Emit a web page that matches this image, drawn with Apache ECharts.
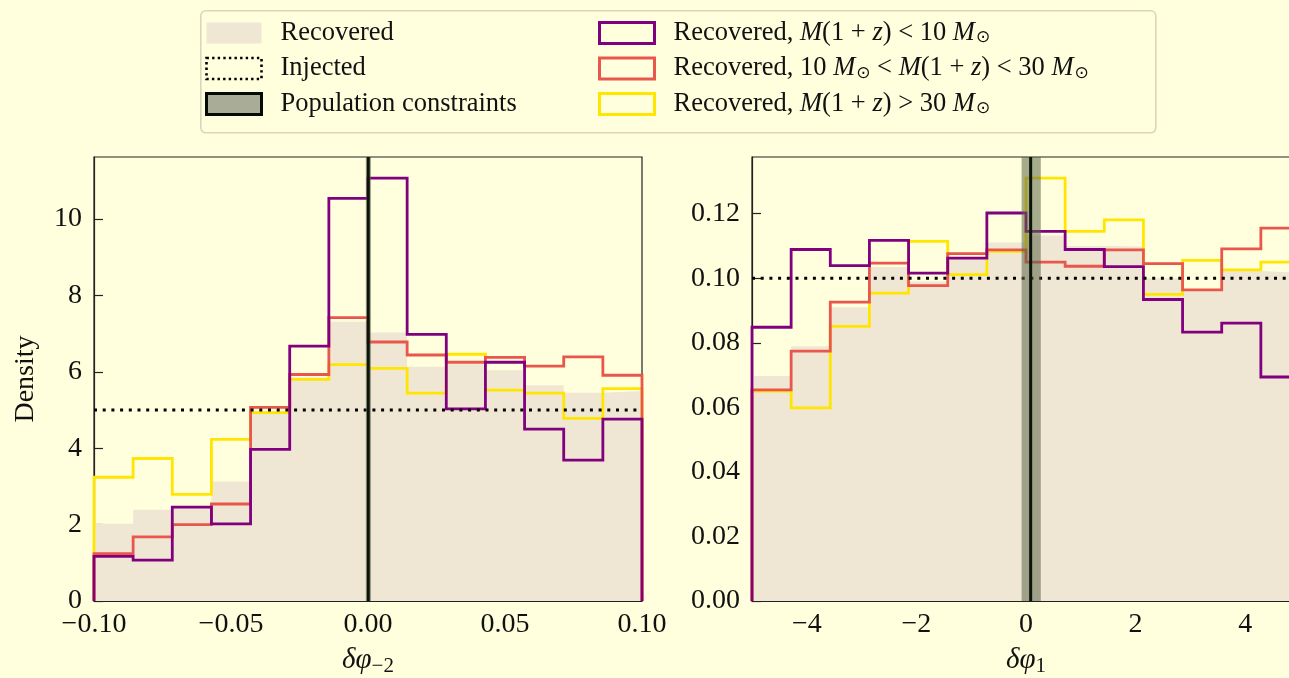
<!DOCTYPE html>
<html>
<head>
<meta charset="utf-8">
<script src="https://cdn.jsdelivr.net/npm/echarts@6/dist/echarts.min.js"></script>
<style>
  html, body { margin: 0; padding: 0; background: #ffffdd; }
  #chart { width: 1289px; height: 678px; }
</style>
</head>
<body>
<div id="chart"></div>
<script>
// ---- δφ_{-2} panel: histogram range, ticks and densities (14 bins) ----
const phiM2Range = [-0.1, 0.1];
const phiM2XTicks = [-0.1, -0.05, 0, 0.05, 0.1];
const phiM2YTicks = [0, 2, 4, 6, 8, 10];
const phiM2Recovered = [2.02, 2.39, 2.45, 3.13, 4.91, 5.85, 7.31, 7.03, 6.13, 6.20, 6.04, 5.65, 5.45, 5.50];
const phiM2Low  = [1.17, 1.07, 2.46, 2.02, 3.97, 6.67, 10.54, 11.07, 6.98, 5.03, 6.25, 4.50, 3.69, 4.76];
const phiM2Mid  = [1.24, 1.68, 2.00, 2.54, 5.07, 5.93, 7.42, 6.78, 6.44, 6.25, 6.38, 6.15, 6.39, 5.91];
const phiM2High = [3.24, 3.73, 2.79, 4.23, 4.93, 5.80, 6.19, 6.09, 5.44, 6.46, 5.52, 5.44, 4.78, 5.56];
const phiM2Injected = 5.0;
const phiM2Pop = 0.0001;
const phiM2PopBand = [-0.0008, 0.0011];

// ---- δφ_1 panel ----
const phi1Range = [-5, 5];
const phi1XTicks = [-4, -2, 0, 2, 4];
const phi1YTicks = [0, 0.02, 0.04, 0.06, 0.08, 0.10, 0.12];
const phi1Recovered = [0.0697, 0.0789, 0.0910, 0.1035, 0.0990, 0.1065, 0.1111, 0.1132, 0.1100, 0.1098, 0.1000, 0.0962, 0.1022, 0.1017];
const phi1Low  = [0.0848, 0.1089, 0.1039, 0.1117, 0.1016, 0.1062, 0.1202, 0.1145, 0.1089, 0.1036, 0.0934, 0.0833, 0.0861, 0.0694];
const phi1Mid  = [0.0654, 0.0774, 0.0926, 0.1047, 0.0977, 0.1076, 0.1088, 0.1050, 0.1037, 0.1088, 0.1045, 0.0964, 0.1091, 0.1155];
const phi1High = [0.0650, 0.0598, 0.0851, 0.0954, 0.1114, 0.1011, 0.1083, 0.1310, 0.1145, 0.1181, 0.0950, 0.1055, 0.1026, 0.1050];
const phi1Injected = 0.10;
const phi1Pop = 0.085;
const phi1PopBand = [-0.08, 0.27];

// ---- names and colours ----
const NAME_REC = 'Recovered';
const NAME_INJ = 'Injected';
const NAME_POP = 'Population constraints';
const NAME_LOW = 'Recovered, M(1+z) < 10 Msun';
const NAME_MID = 'Recovered, 10 Msun < M(1+z) < 30 Msun';
const NAME_HIGH = 'Recovered, M(1+z) > 30 Msun';

const C_BG = '#ffffdd';
const C_FILL = '#efe7d3';
const C_LOW = '#800080';
const C_MID = '#e9564c';
const C_HIGH = '#ffe600';
const C_BAND = 'rgba(92,102,72,0.55)';
const C_POPLINE = '#0a140a';
const C_AXIS = '#222222';
const FONT = '"Liberation Serif", "Times New Roman", serif';

// Step outline of a histogram: rise at the first edge, flat tops, drop at the last edge.
function stepPoints(range, values) {
  const n = values.length;
  const w = (range[1] - range[0]) / n;
  const pts = [[range[0], 0]];
  for (let i = 0; i < n; i++) pts.push([range[0] + i * w, values[i]]);
  pts.push([range[1], values[n - 1]]);
  pts.push([range[1], 0]);
  return pts;
}

function minusFmt(v, digits) {
  const s = Math.abs(v).toFixed(digits);
  return (v < -1e-12 ? '\u2212' : '') + s;
}

function panelSeries(gi, range, yMax, rec, low, mid, high, inj, pop, band) {
  const stepLine = (name, vals, color, z) => ({
    name, type: 'line', xAxisIndex: gi, yAxisIndex: gi,
    data: stepPoints(range, vals), step: 'end', symbol: 'none',
    clip: false, z,
    lineStyle: { color, width: 2.8, cap: 'butt', join: 'miter' },
    itemStyle: { color },
    emphasis: { disabled: true }
  });
  return [
    {
      name: NAME_REC, type: 'line', xAxisIndex: gi, yAxisIndex: gi,
      data: stepPoints(range, rec), step: 'end', symbol: 'none', z: 1,
      lineStyle: { width: 0, color: C_FILL },
      itemStyle: { color: C_FILL },
      areaStyle: { color: C_FILL, opacity: 1 },
      emphasis: { disabled: true }
    },
    stepLine(NAME_HIGH, high, C_HIGH, 2),
    stepLine(NAME_MID, mid, C_MID, 3),
    stepLine(NAME_LOW, low, C_LOW, 4),
    {
      name: NAME_INJ, type: 'line', xAxisIndex: gi, yAxisIndex: gi,
      data: [[range[0], inj], [range[1], inj]], symbol: 'none', z: 5,
      lineStyle: { color: '#000', width: 3, type: [3, 5.7], cap: 'butt' },
      itemStyle: { color: '#000' },
      emphasis: { disabled: true }
    },
    // shaded credible band of the population constraint
    {
      name: NAME_POP, type: 'line', xAxisIndex: gi, yAxisIndex: gi,
      data: [[band[0], yMax], [band[1], yMax]], symbol: 'none', z: 6,
      lineStyle: { width: 0, color: C_BAND },
      itemStyle: { color: '#a9ad97' },
      areaStyle: { color: C_BAND, opacity: 1 },
      emphasis: { disabled: true }
    },
    // median of the population constraint
    {
      name: NAME_POP, type: 'line', xAxisIndex: gi, yAxisIndex: gi,
      data: [[pop, 0], [pop, yMax]], symbol: 'none', z: 7,
      lineStyle: { width: 3, color: C_POPLINE, cap: 'butt' },
      itemStyle: { color: '#a9ad97' },
      emphasis: { disabled: true }
    }
  ];
}

const yMaxL = 1.05 * Math.max(...phiM2Low, ...phiM2Mid, ...phiM2High, ...phiM2Recovered);
const yMaxR = 1.05 * Math.max(...phi1Low, ...phi1Mid, ...phi1High, ...phi1Recovered);

const tickLabel = { fontFamily: FONT, fontSize: 28, color: '#111' };

function xAxisCfg(gi, range, ticks, fmt, nameRich) {
  return {
    type: 'value', gridIndex: gi, min: range[0], max: range[1],
    axisLine: { show: true, onZero: false, lineStyle: { color: C_AXIS, width: 1.2 } },
    axisTick: { show: true, inside: true, length: 9, customValues: ticks, lineStyle: { color: C_AXIS, width: 1.2 } },
    axisLabel: Object.assign({ margin: 10, customValues: ticks, formatter: fmt }, tickLabel),
    splitLine: { show: false },
    name: nameRich, nameLocation: 'middle', nameGap: 42,
    nameTextStyle: {
      rich: {
        a: { fontFamily: FONT, fontSize: 29, fontStyle: 'italic', color: '#111' },
        b: { fontFamily: FONT, fontSize: 21, color: '#111', padding: [13, 0, 0, 0] }
      }
    }
  };
}

function yAxisCfg(gi, max, ticks, fmt, name) {
  return {
    type: 'value', gridIndex: gi, min: 0, max: max,
    axisLine: { show: true, onZero: false, lineStyle: { color: C_AXIS, width: 1.2 } },
    axisTick: { show: true, inside: true, length: 9, customValues: ticks, lineStyle: { color: C_AXIS, width: 1.2 } },
    axisLabel: Object.assign({ margin: 12, customValues: ticks, formatter: fmt }, tickLabel),
    splitLine: { show: false },
    name: name, nameLocation: 'middle', nameGap: 54, nameRotate: 90,
    nameTextStyle: { fontFamily: FONT, fontSize: 28, color: '#111' }
  };
}

// Legend label text with italic math symbols
const legendRich = {
  t: { fontFamily: FONT, fontSize: 26.5, color: '#111', lineHeight: 28 },
  i: { fontFamily: FONT, fontSize: 26.5, color: '#111', fontStyle: 'italic', lineHeight: 28 },
  s: { fontFamily: '"DejaVu Sans", sans-serif', fontSize: 17, color: '#111', padding: [10, 0, 0, 1] }
};
const legendLabels = {};
legendLabels[NAME_REC] = '{t|Recovered}';
legendLabels[NAME_INJ] = '{t|Injected}';
legendLabels[NAME_POP] = '{t|Population constraints}';
legendLabels[NAME_LOW] = '{t|Recovered, }{i|M}{t|(1 + }{i|z}{t|) < 10 }{i|M}{s|\u2299}';
legendLabels[NAME_MID] = '{t|Recovered, 10 }{i|M}{s|\u2299}{t| < }{i|M}{t|(1 + }{i|z}{t|) < 30 }{i|M}{s|\u2299}';
legendLabels[NAME_HIGH] = '{t|Recovered, }{i|M}{t|(1 + }{i|z}{t|) > 30 }{i|M}{s|\u2299}';

function outlineItem(name, color) {
  return { name, icon: 'rect', itemStyle: { color: 'rgba(0,0,0,0)', borderColor: color, borderWidth: 3, borderType: 'solid' } };
}

const legendBase = {
  orient: 'vertical', itemWidth: 55, itemHeight: 21, itemGap: 8.5,
  selectedMode: false,
  textStyle: { rich: legendRich, padding: [0, 0, 0, 14] },
  formatter: (n) => legendLabels[n]
};

const option = {
  backgroundColor: C_BG,
  animation: false,
  graphic: [{
    type: 'rect', left: 200, top: 10, z: -1,
    shape: { width: 955, height: 122, r: 5 },
    style: { fill: 'rgba(0,0,0,0)', stroke: '#d9d6bd', lineWidth: 1.6 }
  }],
  legend: [
    Object.assign({}, legendBase, {
      left: 200, top: 14.5,
      data: [
        { name: NAME_REC, icon: 'rect', itemStyle: { color: C_FILL, borderWidth: 0 } },
        { name: NAME_INJ, icon: 'rect', itemStyle: { color: 'rgba(0,0,0,0)', borderColor: '#000', borderWidth: 2.6, borderType: [2.4, 3.2] } },
        { name: NAME_POP, icon: 'rect', itemStyle: { color: '#a9ad97', borderColor: '#050a05', borderWidth: 3 } }
      ]
    }),
    Object.assign({}, legendBase, {
      left: 593, top: 14.5,
      data: [outlineItem(NAME_LOW, C_LOW), outlineItem(NAME_MID, C_MID), outlineItem(NAME_HIGH, C_HIGH)]
    })
  ],
  grid: [
    { left: 94, top: 157, width: 548, height: 444, show: true, borderColor: C_AXIS, borderWidth: 1.2, backgroundColor: 'transparent', containLabel: false, outerBoundsMode: 'none' },
    { left: 752, top: 157, width: 548, height: 444, show: true, borderColor: C_AXIS, borderWidth: 1.2, backgroundColor: 'transparent', containLabel: false, outerBoundsMode: 'none' }
  ],
  xAxis: [
    xAxisCfg(0, phiM2Range, phiM2XTicks, (v) => minusFmt(v, 2), '{a|\u03b4\u03c6}{b|\u22122}'),
    xAxisCfg(1, phi1Range, phi1XTicks, (v) => minusFmt(v, 0), '{a|\u03b4\u03c6}{b|1}')
  ],
  yAxis: [
    yAxisCfg(0, yMaxL, phiM2YTicks, (v) => String(Math.round(v)), 'Density'),
    yAxisCfg(1, yMaxR, phi1YTicks, (v) => v.toFixed(2), '')
  ],
  series: [].concat(
    panelSeries(0, phiM2Range, yMaxL, phiM2Recovered, phiM2Low, phiM2Mid, phiM2High, phiM2Injected, phiM2Pop, phiM2PopBand),
    panelSeries(1, phi1Range, yMaxR, phi1Recovered, phi1Low, phi1Mid, phi1High, phi1Injected, phi1Pop, phi1PopBand)
  )
};

const chart = echarts.init(document.getElementById('chart'), null, { renderer: 'canvas' });
chart.setOption(option);
</script>
</body>
</html>
